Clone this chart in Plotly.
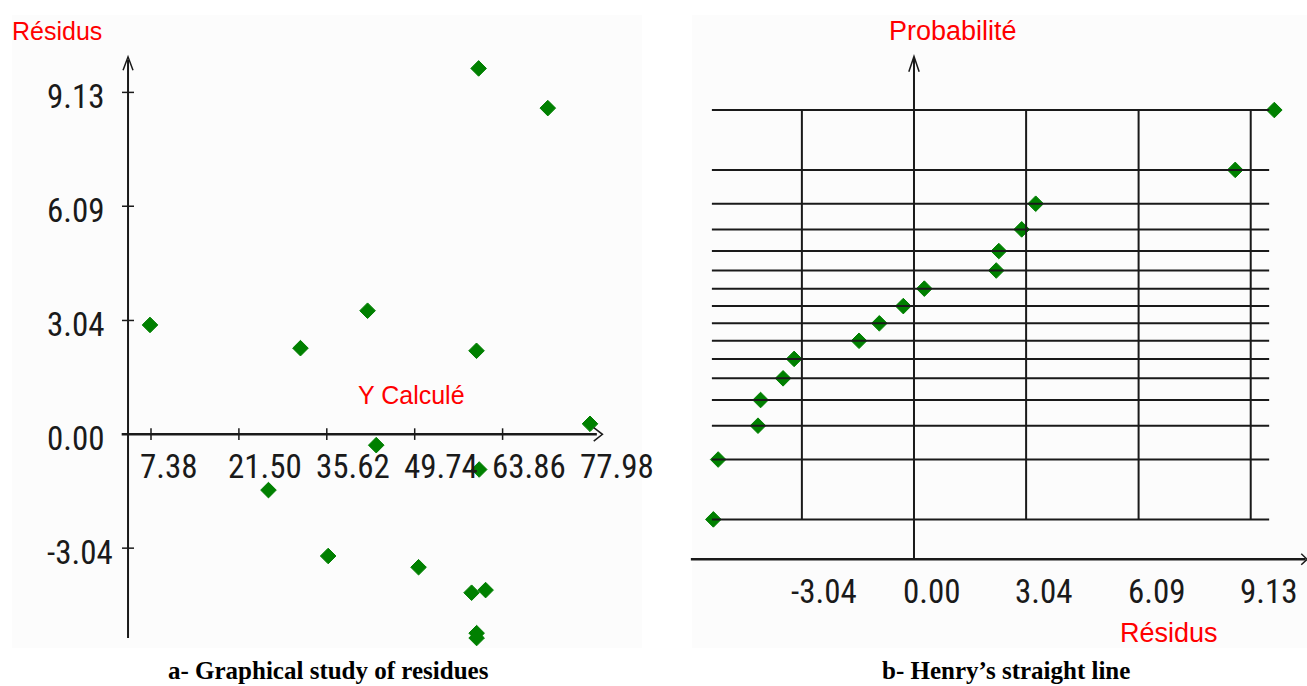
import plotly.graph_objects as go
from statistics import NormalDist

# ---------------- data ----------------
# a- residues vs computed Y
y_calcule = [7.22, 31.39, 26.25, 42.17, 43.56, 35.84, 50.36, 60.01,
             59.67, 60.10, 58.88, 61.13, 59.69, 59.69, 71.12, 77.90]
residus = [2.92, 2.30, -1.49, 3.30, -0.29, -3.25, -3.55, 9.77,
           2.23, -0.94, -4.23, -4.16, -5.31, -5.44, 8.71, 0.28]

# b- Henry's line: cumulative probability of each ordered residue
probabilites = [0.03125, 0.09375, 0.15625, 0.21875, 0.28125, 0.34375,
                0.40625, 0.46875, 0.53125, 0.59375, 0.65625, 0.71875,
                0.78125, 0.84375, 0.90625, 0.96875]

x_ticks_a = [7.38, 21.50, 35.62, 49.74, 63.86, 77.98]
y_ticks_a = [9.13, 6.09, 3.04, 0.00, -3.04]
x_ticks_b = [-3.04, 0.00, 3.04, 6.09, 9.13]

# ---------------- layout constants ----------------
W, H = 1307, 686
GREEN = "#008000"
RED = "#ff0000"
INK = "#1a1a1a"
TICKFONT = "Roboto Condensed, DejaVu Sans Condensed, Liberation Sans, sans-serif"
TITLEFONT = "Liberation Sans, Arial, sans-serif"
CAPFONT = "Liberation Serif, Times New Roman, serif"

def px(x):
    return x / W

def py(y):
    return 1 - y / H

nd = NormalDist()
z_vals = [nd.inv_cdf(p) for p in probabilites]
res_sorted = sorted(residus)

marker = dict(symbol="diamond", size=12, color=GREEN, line=dict(color=GREEN, width=1))

fig = go.Figure()
fig.add_trace(go.Scatter(x=y_calcule, y=residus, mode="markers", xaxis="x", yaxis="y",
                         marker=marker, showlegend=False, hoverinfo="x+y"))
fig.add_trace(go.Scatter(x=res_sorted, y=z_vals, mode="markers", xaxis="x2", yaxis="y2",
                         marker=marker, showlegend=False, hoverinfo="x+y"))

shapes = []
# faint panel backgrounds
shapes.append(dict(type="rect", xref="paper", yref="paper", x0=px(12), x1=px(642),
                   y0=py(648), y1=py(15), fillcolor="#fcfcfc", line=dict(width=0), layer="below"))
shapes.append(dict(type="rect", xref="paper", yref="paper", x0=px(692), x1=px(1307),
                   y0=py(648), y1=py(15), fillcolor="#fcfcfc", line=dict(width=0), layer="below"))

# ---- panel a axes (data units of x / y) ----
ax_a_x = 3.69      # position of the vertical axis on the Y-calculé scale
shapes.append(dict(type="line", xref="x", yref="y", x0=2.67, x1=79.0, y0=0, y1=0,
                   line=dict(color=INK, width=2.5)))
shapes.append(dict(type="line", xref="x", yref="y", x0=ax_a_x, x1=ax_a_x, y0=-5.44, y1=10.0,
                   line=dict(color=INK, width=2)))
shapes.append(dict(type="path", xref="x", yref="y",
                   path=f"M {ax_a_x-0.8},9.72 L {ax_a_x},10.08 L {ax_a_x+0.8},9.72",
                   line=dict(color=INK, width=1.5)))
shapes.append(dict(type="path", xref="x", yref="y",
                   path="M 78.5,0.18 L 79.9,0 L 78.5,-0.18",
                   line=dict(color=INK, width=1.5)))
for t in x_ticks_a[:-1]:
    shapes.append(dict(type="line", xref="x", yref="y", x0=t, x1=t, y0=-0.15, y1=0.16,
                       line=dict(color=INK, width=1.5)))
for t in y_ticks_a:
    if t != 0:
        shapes.append(dict(type="line", xref="x", yref="y", x0=2.72, x1=4.65, y0=t, y1=t,
                           line=dict(color=INK, width=1.5)))

# ---- panel b grid (data units of x2 / y2) ----
z_top, z_bot = max(z_vals), min(z_vals)
for z in z_vals:
    shapes.append(dict(type="line", xref="x2", yref="y2", x0=-5.48, x1=9.63, y0=z, y1=z,
                       line=dict(color=INK, width=2)))
for t in x_ticks_b:
    if t != 0:
        shapes.append(dict(type="line", xref="x2", yref="y2", x0=t, x1=t, y0=z_bot, y1=z_top,
                           line=dict(color=INK, width=2)))
z_axis = -2.226
shapes.append(dict(type="line", xref="x2", yref="y2", x0=0, x1=0, y0=z_axis, y1=2.34,
                   line=dict(color=INK, width=2)))
shapes.append(dict(type="line", xref="x2", yref="y2", x0=-6.05, x1=10.62, y0=z_axis, y1=z_axis,
                   line=dict(color=INK, width=2.5)))
shapes.append(dict(type="path", xref="x2", yref="y2",
                   path="M -0.14,2.21 L 0,2.35 L 0.14,2.21",
                   line=dict(color=INK, width=1.5)))
shapes.append(dict(type="path", xref="x2", yref="y2",
                   path=f"M 10.5,{z_axis+0.05} L 10.66,{z_axis} L 10.5,{z_axis-0.05}",
                   line=dict(color=INK, width=1.5)))

annotations = []
for t in x_ticks_a:
    annotations.append(dict(xref="x", yref="y", x=t, y=0, text=f"{t:.2f}", showarrow=False,
                            xanchor="left", yanchor="middle", xshift=-13, yshift=-32,
                            font=dict(family=TICKFONT, size=33, color=INK)))
for t in y_ticks_a:
    annotations.append(dict(xref="paper", yref="y", x=px(45), y=t, text=f"{t:.2f}", showarrow=False,
                            xanchor="left", yanchor="middle", yshift=-4,
                            font=dict(family=TICKFONT, size=33, color=INK)))
for t in x_ticks_b:
    annotations.append(dict(xref="x2", yref="y2", x=t, y=z_axis, text=f"{t:.2f}", showarrow=False,
                            xanchor="left", yanchor="middle", xshift=-13, yshift=-32,
                            font=dict(family=TICKFONT, size=33, color=INK)))

annotations += [
    dict(xref="paper", yref="paper", x=px(10), y=py(31), text="Résidus", showarrow=False,
         xanchor="left", yanchor="middle", font=dict(family=TITLEFONT, size=25, color=RED)),
    dict(xref="paper", yref="paper", x=px(411), y=py(395), text="Y Calculé", showarrow=False,
         xanchor="center", yanchor="middle", font=dict(family=TITLEFONT, size=25, color=RED)),
    dict(xref="paper", yref="paper", x=px(953), y=py(31), text="Probabilité", showarrow=False,
         xanchor="center", yanchor="middle", font=dict(family=TITLEFONT, size=27, color=RED)),
    dict(xref="paper", yref="paper", x=px(1169), y=py(633), text="Résidus", showarrow=False,
         xanchor="center", yanchor="middle", font=dict(family=TITLEFONT, size=27, color=RED)),
    dict(xref="paper", yref="paper", x=px(328), y=py(670), text="<b>a- Graphical study of residues</b>",
         showarrow=False, xanchor="center", yanchor="middle",
         font=dict(family=CAPFONT, size=25, color="#000000")),
    dict(xref="paper", yref="paper", x=px(1006), y=py(670), text="<b>b- Henry\u2019s straight line</b>",
         showarrow=False, xanchor="center", yanchor="middle",
         font=dict(family=CAPFONT, size=25, color="#000000")),
]

hidden = dict(visible=False, showgrid=False, zeroline=False, fixedrange=True)
fig.update_layout(
    width=W, height=H, margin=dict(l=0, r=0, t=0, b=0),
    paper_bgcolor="white", plot_bgcolor="rgba(0,0,0,0)",
    xaxis=dict(domain=[0, 650 / W], range=[-16.876, 87.538], **hidden),
    yaxis=dict(domain=[0, 1], range=[-6.721, 11.597], anchor="x", **hidden),
    xaxis2=dict(domain=[650 / W, 1], range=[-7.158, 10.656], anchor="y2", **hidden),
    yaxis2=dict(domain=[0, 1], range=[-3.379, 2.864], anchor="x2", **hidden),
    shapes=shapes, annotations=annotations, showlegend=False,
)

fig.write_html("out.html")
